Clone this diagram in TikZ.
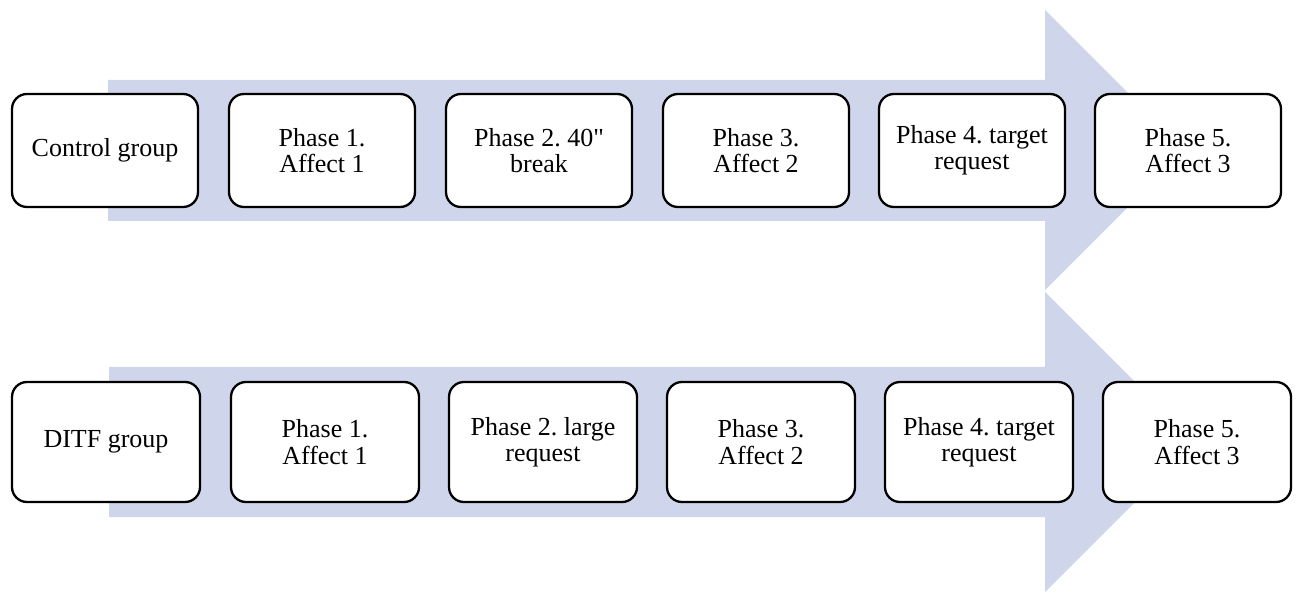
\documentclass[tikz,border=0pt]{standalone}
\usepackage{fontspec}
\setmainfont{Liberation Serif}[Ligatures=TeXOff]
\frenchspacing
\definecolor{arrowfill}{RGB}{207,213,234}
\begin{document}
\begin{tikzpicture}[x=1pt,y=-1pt,
  phasebox/.style={draw=black, line width=2.3pt, rounded corners=15pt, fill=white,
    align=center, inner sep=0pt, font=\fontsize{26}{26.5}\selectfont},
  toprow/.style={phasebox, minimum width=186pt, minimum height=113pt},
  botrow/.style={phasebox, minimum width=188pt, minimum height=120pt},
  bigarrow/.style={fill=arrowfill, draw=none}]
\useasboundingbox (0,0) rectangle (1298,593);
% arrows
\fill[bigarrow] (108,80) -- (1045,80) -- (1045,10) -- (1185,150) -- (1045,290) -- (1045,221) -- (108,221) -- cycle;
\fill[bigarrow] (109,367) -- (1045,367) -- (1045,292) -- (1195,442) -- (1045,592) -- (1045,517) -- (109,517) -- cycle;
% top row
\node[toprow] (c0) at (105,150.5) {Control group};
\node[toprow] (c1) at (322,150.5) {Phase 1.\\Affect 1};
\node[toprow] (c2) at (539,150.5) {Phase 2. 40"\\break};
\node[toprow] (c3) at (756,150.5) {Phase 3.\\Affect 2};
\node[toprow] (c4) at (972,150.5) {Phase 4. target\\request};
\node[toprow] (c5) at (1188,150.5) {Phase 5.\\Affect 3};
% bottom row
\node[botrow] (d0) at (106,442) {DITF group};
\node[botrow] (d1) at (325,442) {Phase 1.\\Affect 1};
\node[botrow] (d2) at (543,442) {Phase 2. large\\request};
\node[botrow] (d3) at (761,442) {Phase 3.\\Affect 2};
\node[botrow] (d4) at (979,442) {Phase 4. target\\request};
\node[botrow] (d5) at (1197,442) {Phase 5.\\Affect 3};
\end{tikzpicture}
\end{document}
